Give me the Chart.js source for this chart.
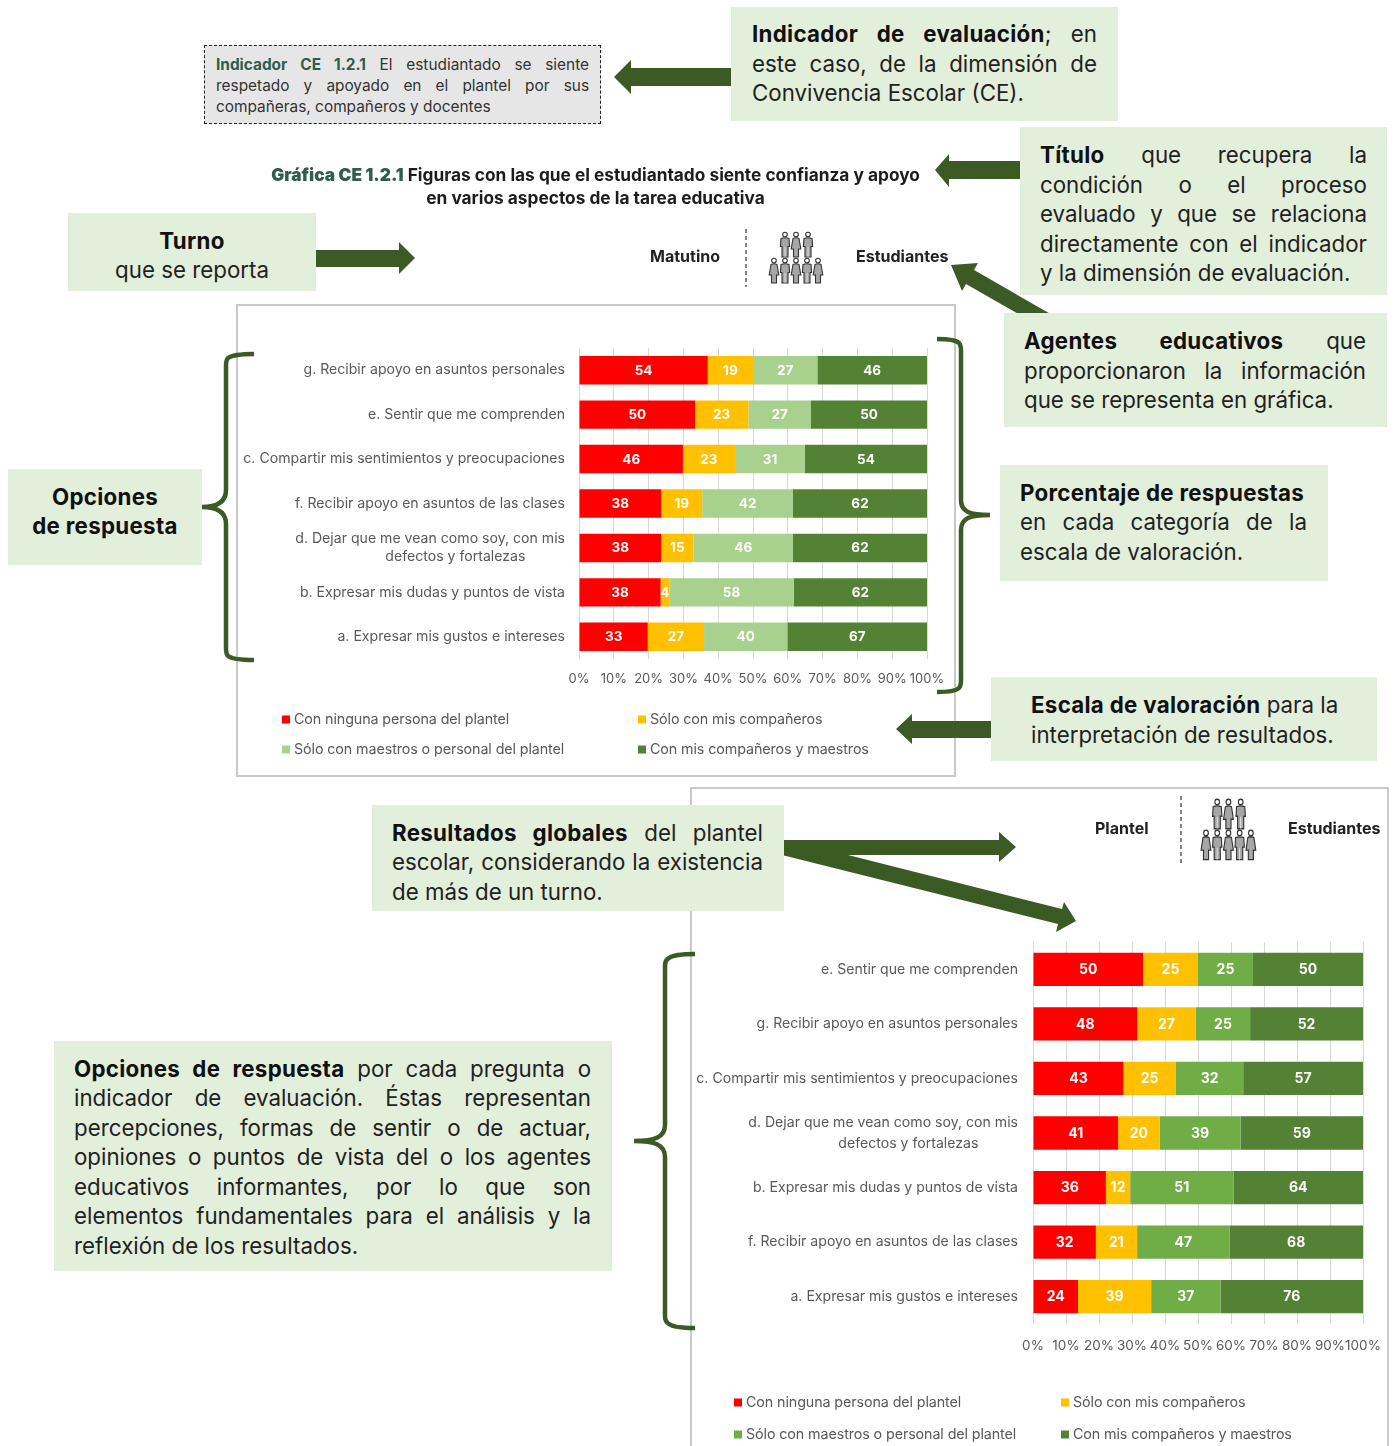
<!DOCTYPE html>
<html lang="es">
<head>
<meta charset="utf-8">
<title>Gráfica CE 1.2.1</title>
<script src="https://cdn.jsdelivr.net/npm/chart.js@4"></script>
<style>
  html, body { margin: 0; background: #fff; }
  #page { position: relative; width: 1397px; height: 1446px; overflow: hidden; font-family: Inter, sans-serif; color: #262626; }
  #page > * { position: absolute; }
  .frame { background: #fff; border: 2px solid #c9c9c9; box-sizing: border-box; }
  .box { background: #e2efda; box-sizing: border-box; font-size: 22.3px; line-height: 29.5px; color: #222; }
  .box b { color: #111; letter-spacing: 0.3px; }
  .j { text-align: justify; text-align-last: justify; white-space: nowrap; }
  .c { text-align: center; }
  .gray { background: #e7e6e6; border: 1.5px dashed #222; box-sizing: border-box; font-size: 15.4px; line-height: 21px; color: #333; padding: 8px 11px 0 11px; }
  .gray b, .title b { color: #2f5d4c; }
  .title { font-size: 17.3px; line-height: 23px; font-weight: 700; text-align: center; color: #1c1c1c; white-space: nowrap; }
  .tag { font-size: 16px; font-weight: 700; color: #222; white-space: nowrap; transform: translateY(-50%); }
  .legend { font-size: 14.3px; color: #595959; white-space: nowrap; letter-spacing: -0.1px; transform: translateY(-50%); }
  .legend i { display: inline-block; width: 8px; height: 8px; margin-right: 4px; }
  canvas { display: block; }
</style>
</head>
<body>
<div id="page">
  <div class="frame" style="left:236px;top:304px;width:720px;height:473px"></div>
  <div class="frame" style="left:690px;top:787px;width:699px;height:680px"></div>
  <canvas id="chartTurno" width="718" height="472" style="left:237px;top:304px"></canvas>
  <canvas id="chartPlantel" width="697" height="658" style="left:691px;top:788px"></canvas>

  <svg width="1397" height="1446" style="left:0;top:0">
    <defs>
      <g id="man" fill="#a6a6a6" stroke="#333" stroke-width="1.1">
        <circle cx="0" cy="2.5" r="2.3" fill="#fff"/>
        <path d="M-4 6.5 Q0 5 4 6.5 L4.6 14.5 H3 V25 H-3 V14.5 H-4.6 Z"/>
        <path d="M0 15 V25" fill="none" stroke="#eee" stroke-width="0.8"/>
      </g>
      <g id="woman" fill="#a6a6a6" stroke="#333" stroke-width="1.1">
        <circle cx="0" cy="2.5" r="2.3" fill="#fff"/>
        <path d="M-3 6.5 Q0 5 3 6.5 L4.8 17 H2.5 V25 H-2.5 V17 H-4.8 Z"/>
      </g>
      <g id="people">
        <use href="#man" x="11"/><use href="#woman" x="22"/><use href="#man" x="34"/>
        <use href="#woman" y="26"/><use href="#man" x="11" y="26"/><use href="#woman" x="22" y="26"/><use href="#man" x="33" y="26"/><use href="#woman" x="44" y="26"/>
      </g>
    </defs>
    <g fill="#3b5a24">
      <polygon points="731,68 631,68 631,60 614,77 631,94 631,86 731,86"/>
      <polygon points="1020,161 949,161 949,154 935,170 949,187 949,179 1020,179"/>
      <polygon points="315,250 399,250 399,242 415,258 399,274 399,267 315,267"/>
      <polygon points="951,265 962,291 966,284 1060,338 1068,324 974,270 978,263"/>
      <polygon points="991,721 912,721 912,714 896,729 912,744 912,738 991,738"/>
      <polygon points="782,840 999,840 999,832 1016,847 999,862 999,855 782,855"/>
      <polygon points="1076,921 1056,932 1058,924 782,855 848,855 1062,909 1064,902"/>
    </g>
    <g fill="none" stroke="#3b5a24" stroke-width="4.5">
      <path d="M254 354 C240 354 232 355 228 358 Q226 360 226 366 L226 490 C226 503 216 507 202 507 C216 507 226 511 226 524 L226 648 Q226 654 228 656 C232 659 240 660 254 660"/>
      <path d="M937 339 C950 339 956 340 959 343 Q961 345 961 351 L961 500 C961 512 970 515 990 515 C970 515 961 518 961 530 L961 680 Q961 686 959 688 C956 691 950 692 937 692"/>
      <path d="M695 954 C681 954 673 955 669 958 Q665 960 665 966 L665 1125 C665 1137 655 1141 634 1141 C655 1141 665 1145 665 1157 L665 1316 Q665 1322 669 1324 C673 1327 681 1328 695 1328"/>
    </g>
    <g stroke="#333" stroke-width="1.2" stroke-dasharray="4 3">
      <line x1="746" y1="229" x2="746" y2="287"/>
      <line x1="1181" y1="796" x2="1181" y2="864"/>
    </g>
    <use href="#people" transform="translate(774 232)"/>
    <use href="#people" transform="translate(1206 799) scale(1.02 1.19)"/>
  </svg>

  <div class="gray" style="left:204px;top:45px;width:397px;height:79px">
    <div class="j"><b>Indicador CE 1.2.1</b> El estudiantado se siente</div>
    <div class="j">respetado y apoyado en el plantel por sus</div>
    <div>compañeras, compañeros y docentes</div>
  </div>

  <div class="box" style="left:731px;top:7px;width:387px;height:114px;padding:12px 21px 0 21px">
    <div class="j"><b>Indicador de evaluación</b>; en</div>
    <div class="j">este caso, de la dimensión de</div>
    <div>Convivencia Escolar (CE).</div>
  </div>

  <div class="box" style="left:1020px;top:127px;width:367px;height:168px;padding:13px 20px 0 20px">
    <div class="j"><b>Título</b> que recupera la</div>
    <div class="j">condición o el proceso</div>
    <div class="j">evaluado y que se relaciona</div>
    <div class="j">directamente con el indicador</div>
    <div>y la dimensión de evaluación.</div>
  </div>

  <div class="title" style="left:232px;top:163px;width:727px">
    <div><b>Gráfica CE 1.2.1</b> Figuras con las que el estudiantado siente confianza y apoyo</div>
    <div>en varios aspectos de la tarea educativa</div>
  </div>

  <div class="box c" style="left:68px;top:213px;width:248px;height:78px;padding:12.5px 0 0 0">
    <div><b>Turno</b></div>
    <div>que se reporta</div>
  </div>

  <div class="tag" style="left:650px;top:256px">Matutino</div>
  <div class="tag" style="left:856px;top:256px">Estudiantes</div>

  <div class="box" style="left:1004px;top:313px;width:383px;height:114px;padding:13px 21px 0 20px">
    <div class="j"><b>Agentes educativos</b> que</div>
    <div class="j">proporcionaron la información</div>
    <div>que se representa en gráfica.</div>
  </div>

  <div class="box c" style="left:8px;top:469px;width:194px;height:96px;padding:12.5px 0 0 0">
    <div><b>Opciones</b></div>
    <div><b>de respuesta</b></div>
  </div>

  <div class="box" style="left:1000px;top:465px;width:328px;height:116px;padding:12.5px 21px 0 20px">
    <div><b>Porcentaje de respuestas</b></div>
    <div class="j">en cada categoría de la</div>
    <div>escala de valoración.</div>
  </div>

  <div class="box" style="left:991px;top:677px;width:386px;height:84px;padding:13px 0 0 40px">
    <div><b>Escala de valoración</b> para la</div>
    <div>interpretación de resultados.</div>
  </div>

  <div class="box" style="left:372px;top:805px;width:412px;height:106px;padding:12.5px 21px 0 20px">
    <div class="j"><b>Resultados globales</b> del plantel</div>
    <div class="j">escolar, considerando la existencia</div>
    <div>de más de un turno.</div>
  </div>

  <div class="tag" style="left:1095px;top:828px">Plantel</div>
  <div class="tag" style="left:1288px;top:828px">Estudiantes</div>

  <div class="box" style="left:54px;top:1041px;width:558px;height:230px;padding:12.5px 21px 0 20px">
    <div class="j"><b>Opciones de respuesta</b> por cada pregunta o</div>
    <div class="j">indicador de evaluación. Éstas representan</div>
    <div class="j">percepciones, formas de sentir o de actuar,</div>
    <div class="j">opiniones o puntos de vista del o los agentes</div>
    <div class="j">educativos informantes, por lo que son</div>
    <div class="j">elementos fundamentales para el análisis y la</div>
    <div>reflexión de los resultados.</div>
  </div>
</div>

<script>
const scaleTicks = ["0%", "10%", "20%", "30%", "40%", "50%", "60%", "70%", "80%", "90%", "100%"];
const seriesNames = ["Con ninguna persona del plantel", "Sólo con mis compañeros", "Sólo con maestros o personal del plantel", "Con mis compañeros y maestros"];

// Turno matutino
const turnoCategories = [
  "g. Recibir apoyo en asuntos personales",
  "e. Sentir que me comprenden",
  "c. Compartir mis sentimientos y preocupaciones",
  "f. Recibir apoyo en asuntos de las clases",
  ["d. Dejar que me vean como soy, con mis", "defectos y fortalezas\u00a0\u00a0\u00a0\u00a0\u00a0\u00a0\u00a0\u00a0\u00a0\u00a0"],
  "b. Expresar mis dudas y puntos de vista",
  "a. Expresar mis gustos e intereses"
];
const turnoNinguna = [54, 50, 46, 38, 38, 38, 33];
const turnoCompaneros = [19, 23, 23, 19, 15, 4, 27];
const turnoMaestros = [27, 27, 31, 42, 46, 58, 40];
const turnoAmbos = [46, 50, 54, 62, 62, 62, 67];

// Resultados globales del plantel
const plantelCategories = [
  "e. Sentir que me comprenden",
  "g. Recibir apoyo en asuntos personales",
  "c. Compartir mis sentimientos y preocupaciones",
  ["d. Dejar que me vean como soy, con mis", "defectos y fortalezas\u00a0\u00a0\u00a0\u00a0\u00a0\u00a0\u00a0\u00a0\u00a0\u00a0"],
  "b. Expresar mis dudas y puntos de vista",
  "f. Recibir apoyo en asuntos de las clases",
  "a. Expresar mis gustos e intereses"
];
const plantelNinguna = [50, 48, 43, 41, 36, 32, 24];
const plantelCompaneros = [25, 27, 25, 20, 12, 21, 39];
const plantelMaestros = [25, 25, 32, 39, 51, 47, 37];
const plantelAmbos = [50, 52, 57, 59, 64, 68, 76];

// los numeros son conteos, la barra va al 100%
function toShares(rows, row) {
  return row.map(function (v, i) {
    var total = rows.reduce(function (sum, r) { return sum + r[i]; }, 0);
    return v / total * 100;
  });
}

const countLabels = {
  id: "countLabels",
  afterDatasetsDraw: function (chart, args, opts) {
    const ctx = chart.ctx;
    ctx.save();
    ctx.font = "700 " + opts.size + "px Inter, sans-serif";
    ctx.fillStyle = "#fff";
    ctx.textAlign = "center";
    ctx.textBaseline = "middle";
    chart.data.datasets.forEach(function (ds, d) {
      chart.getDatasetMeta(d).data.forEach(function (bar, i) {
        ctx.fillText(ds.counts[i], (bar.base + bar.x) / 2, bar.y + 0.5);
      });
    });
    ctx.restore();
  }
};

function makeChart(id, categories, rows, colors, cfg) {
  new Chart(document.getElementById(id), {
    type: "bar",
    plugins: [countLabels],
    data: {
      labels: categories,
      datasets: rows.map(function (row, i) {
        return {
          label: seriesNames[i],
          data: toShares(rows, row),
          counts: row,
          backgroundColor: colors[i],
          borderWidth: 0,
          barPercentage: cfg.barPercentage,
          categoryPercentage: 1
        };
      })
    },
    options: {
      indexAxis: "y",
      responsive: false,
      animation: false,
      layout: { padding: { top: cfg.top, right: cfg.right, bottom: cfg.bottom, left: 0 } },
      plugins: {
        legend: { display: false },
        tooltip: { enabled: false },
        countLabels: { size: cfg.valueSize }
      },
      scales: {
        x: {
          stacked: true,
          min: 0,
          max: 100,
          afterBuildTicks: function (axis) {
            axis.ticks = scaleTicks.map(function (t, i) { return { value: i * 10 }; });
          },
          afterFit: function (axis) {
            axis.height = cfg.axisHeight;
            axis.paddingLeft = 0;
            axis.paddingRight = 0;
          },
          grid: { color: "#d9d9d9", drawTicks: false },
          border: { display: false },
          ticks: {
            color: "#595959",
            padding: cfg.tickPad,
            maxRotation: 0,
            autoSkip: false,
            font: { family: "Inter", size: cfg.tickSize },
            callback: function (v, i) { return scaleTicks[i]; }
          }
        },
        y: {
          stacked: true,
          afterFit: function (axis) { axis.width = cfg.labelWidth; },
          grid: { display: false },
          border: { display: false },
          ticks: {
            color: "#595959",
            padding: cfg.labelPad,
            autoSkip: false,
            font: { family: "Inter", size: cfg.labelSize, lineHeight: cfg.labelLine }
          }
        }
      }
    }
  });
}

const turnoColors = ["#ff0000", "#ffc000", "#a9d18e", "#548235"];
const plantelColors = ["#ff0000", "#ffc000", "#70ad47", "#548235"];

makeChart("chartTurno", turnoCategories, [turnoNinguna, turnoCompaneros, turnoMaestros, turnoAmbos], turnoColors, {
  top: 44, right: 28, bottom: 87, axisHeight: 30, labelWidth: 342, labelPad: 6, barPercentage: 0.64,
  tickPad: 12, tickSize: 13, labelSize: 14.1, labelLine: 1.25, valueSize: 13.5
});
makeChart("chartPlantel", plantelCategories, [plantelNinguna, plantelCompaneros, plantelMaestros, plantelAmbos], plantelColors, {
  top: 154, right: 25, bottom: 92, axisHeight: 30, labelWidth: 342, labelPad: 7, barPercentage: 0.61,
  tickPad: 14, tickSize: 13.5, labelSize: 14.1, labelLine: 1.5, valueSize: 14
});

// leyendas en dos columnas
function addLegend(colors, items) {
  items.forEach(function (it, i) {
    var el = document.createElement("div");
    el.className = "legend";
    el.style.left = it[0] + "px";
    el.style.top = it[1] + "px";
    el.innerHTML = '<i style="background:' + colors[i] + '"></i>' + seriesNames[i];
    document.getElementById("page").appendChild(el);
  });
}
addLegend(turnoColors, [[282, 718], [638, 718], [282, 748], [638, 748]]);
addLegend(plantelColors, [[734, 1401], [1061, 1401], [734, 1433], [1061, 1433]]);
</script>
</body>
</html>
